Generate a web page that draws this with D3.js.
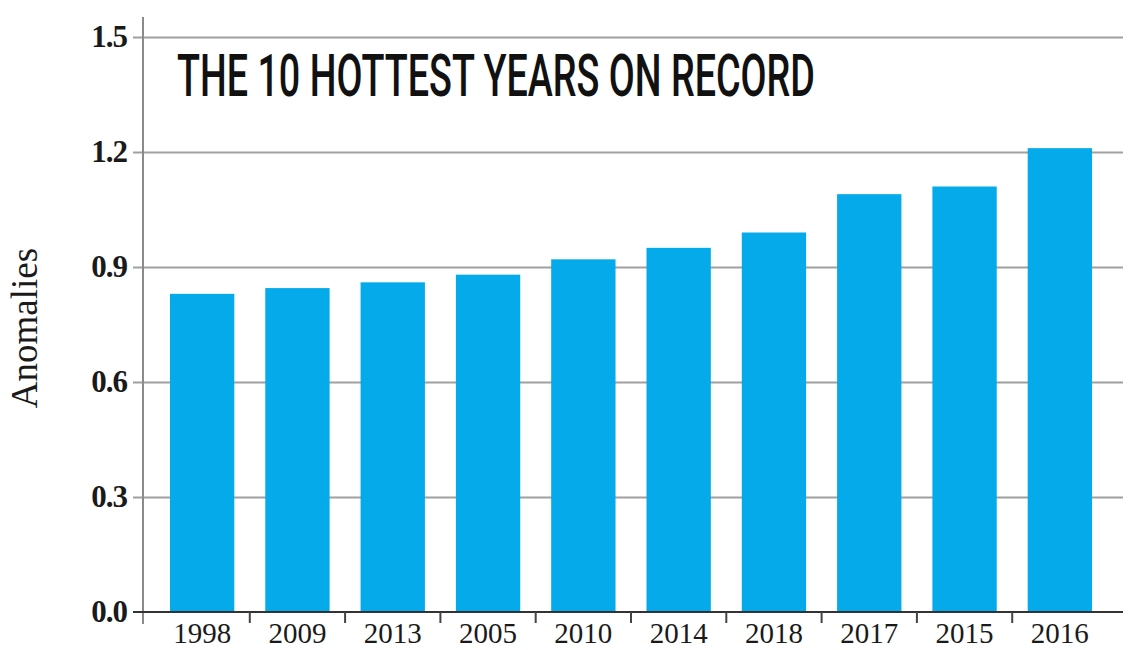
<!DOCTYPE html>
<html>
<head>
<meta charset="utf-8">
<script src="https://cdn.jsdelivr.net/npm/d3@7"></script>
<style>
  html, body { margin: 0; padding: 0; background: #fff; }
  svg { display: block; }
</style>
</head>
<body>
<svg id="chart" width="1138" height="650"></svg>
<script>
const years = ["1998", "2009", "2013", "2005", "2010", "2014", "2018", "2017", "2015", "2016"];
const anomalies = [0.83, 0.845, 0.86, 0.88, 0.92, 0.95, 0.99, 1.09, 1.11, 1.21];
const yTicks = [0.0, 0.3, 0.6, 0.9, 1.2, 1.5];
const titleText = "THE 10 HOTTEST YEARS ON RECORD";
const yAxisLabel = "Anomalies";

const svg = d3.select("#chart");

const axisX = 143, gridLeft = 133, gridRight = 1123;
const y = d3.scaleLinear().domain([0, 1.5]).range([612, 37]);
const x = d3.scaleBand().domain(years).range([143, 1119]).paddingInner(0.325).paddingOuter(0.283);

// gridlines
const grid = svg.append("g")
  .attr("transform", `translate(${gridLeft},0)`)
  .call(d3.axisRight(y).tickValues(yTicks.filter(d => d > 0)).tickSize(gridRight - gridLeft).tickFormat(""));
grid.select(".domain").remove();
grid.selectAll("line").attr("stroke", "#a0a0a0").attr("stroke-width", 2);

// y axis vertical line
svg.append("line")
  .attr("x1", axisX).attr("x2", axisX)
  .attr("y1", 17).attr("y2", 624)
  .attr("stroke", "#8a8a8a").attr("stroke-width", 2);

// y labels
const yAxis = svg.append("g")
  .attr("transform", `translate(${axisX},0)`)
  .call(d3.axisLeft(y).tickValues(yTicks).tickSize(0).tickPadding(16).tickFormat(d3.format(".1f")));
yAxis.select(".domain").remove();
yAxis.selectAll("text")
  .attr("font-family", "'Liberation Serif', 'DejaVu Serif', serif")
  .attr("font-weight", "bold")
  .attr("font-size", 31)
  .attr("letter-spacing", -1)
  .attr("fill", "#1a1a1a")
  .attr("dy", "0.32em");

// bars
svg.append("g").selectAll("rect")
  .data(years.map((yr, i) => ({ yr, v: anomalies[i] })))
  .join("rect")
  .attr("x", d => x(d.yr))
  .attr("width", x.bandwidth())
  .attr("y", d => y(d.v))
  .attr("height", d => y(0) - y(d.v))
  .attr("fill", "#04aae9");

// x axis
const xAxis = svg.append("g")
  .attr("transform", `translate(0,${y(0)})`)
  .call(d3.axisBottom(x).tickSize(0));
xAxis.select(".domain").remove();
xAxis.selectAll("text")
  .attr("font-family", "'Liberation Serif', 'DejaVu Serif', serif")
  .attr("font-size", 29)
  .attr("fill", "#1a1a1a")
  .attr("y", 31)
  .attr("dy", 0);

svg.append("line")
  .attr("x1", gridLeft).attr("x2", gridRight)
  .attr("y1", y(0)).attr("y2", y(0))
  .attr("stroke", "#333").attr("stroke-width", 2);

// boundary ticks between bars
svg.append("g").selectAll("line")
  .data(years.slice(1))
  .join("line")
  .attr("x1", d => x(d) - x.step() * x.paddingInner() / 2)
  .attr("x2", d => x(d) - x.step() * x.paddingInner() / 2)
  .attr("y1", y(0)).attr("y2", y(0) + 11)
  .attr("stroke", "#444").attr("stroke-width", 2);

// title (horizontally condensed to match the reference width)
const titleG = svg.append("g");
const title = titleG.append("text")
  .attr("x", 0).attr("y", 0)
  .attr("font-family", "Roboto, 'DejaVu Sans', sans-serif")
  .attr("font-weight", 500)
  .attr("font-size", 60)
  .attr("fill", "#111")
  .text(titleText);
const natural = title.node().getComputedTextLength();
const sx = 638 / natural;
titleG.attr("transform", `translate(177,96) scale(${sx},1)`);

// y axis label
svg.append("text")
  .attr("transform", "translate(37,328) rotate(-90)")
  .attr("text-anchor", "middle")
  .attr("font-family", "'Liberation Serif', 'DejaVu Serif', serif")
  .attr("font-size", 37)
  .attr("fill", "#1a1a1a")
  .text(yAxisLabel);
</script>
</body>
</html>
